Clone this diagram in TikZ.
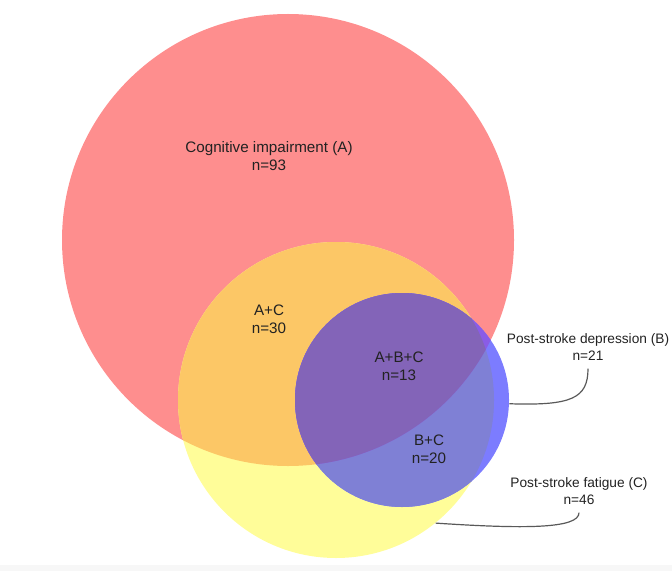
\documentclass[tikz,border=0pt]{standalone}
\usepackage[dvipsnames]{xcolor}
\usepackage{tikz}
\usepackage{fontspec}
\setmainfont{Liberation Sans}

\definecolor{fillA}{RGB}{254,142,142}
\definecolor{fillC}{RGB}{255,253,153}
\definecolor{fillAC}{RGB}{252,199,102}
\definecolor{fillB}{RGB}{124,124,255}
\definecolor{fillBC}{RGB}{127,128,213}
\definecolor{fillAB}{RGB}{138,92,230}
\definecolor{fillABC}{RGB}{131,100,184}
\definecolor{ink}{RGB}{34,34,34}

\tikzset{
  lab/.style={align=center, inner sep=1pt, text=ink, font=\fontsize{7.6}{9}\selectfont},
  sidelab/.style={lab, font=\fontsize{6.85}{8.2}\selectfont},
  ring/.style={circle, inner sep=0pt},
  lead/.style={draw=black!65, line width=0.6pt}
}

\begin{document}
\begin{tikzpicture}[x=0.5pt,y=-0.5pt]
\useasboundingbox (0,0) rectangle (672,571);
\fill[black!3] (0,565) rectangle (672,571);

\coordinate (cA) at (288,240);
\coordinate (cC) at (336,400);
\coordinate (cB) at (402,400);

\fill[fillA] (cA) circle (113pt);
\fill[fillC] (cC) circle (79pt);
\begin{scope}
  \clip (cA) circle (113pt);
  \fill[fillAC] (cC) circle (79pt);
\end{scope}
\fill[fillB] (cB) circle (53.5pt);
\begin{scope}
  \clip (cC) circle (79pt);
  \fill[fillBC] (cB) circle (53.5pt);
\end{scope}
\begin{scope}
  \clip (cA) circle (113pt);
  \fill[fillAB] (cB) circle (53.5pt);
  \clip (cC) circle (79pt);
  \fill[fillABC] (cB) circle (53.5pt);
\end{scope}

\node[ring, minimum size=226pt] (A) at (cA) {};
\node[ring, minimum size=158pt] (C) at (cC) {};
\node[ring, minimum size=107pt] (B) at (cB) {};

\node[lab] (labA) at (269,156) {Cognitive impairment (A)\\n=93};
\node[lab] (labAC) at (269,319) {A+C\\n=30};
\node[lab] (labABC) at (399,366) {A+B+C\\n=13};
\node[lab] (labBC) at (429,449) {B+C\\n=20};
\node[sidelab] (labB) at (588,347) {Post-stroke depression (B)\\n=21};
\node[sidelab] (labC) at (579,491) {Post-stroke fatigue (C)\\n=46};

\draw[lead] (B.-2) .. controls +(62,2) and +(0,30) .. ([yshift=-3pt]labB.south);
\draw[lead] (C.-51) .. controls +(90,6) and +(0,16) .. ([yshift=-3pt]labC.south);
\end{tikzpicture}
\end{document}
